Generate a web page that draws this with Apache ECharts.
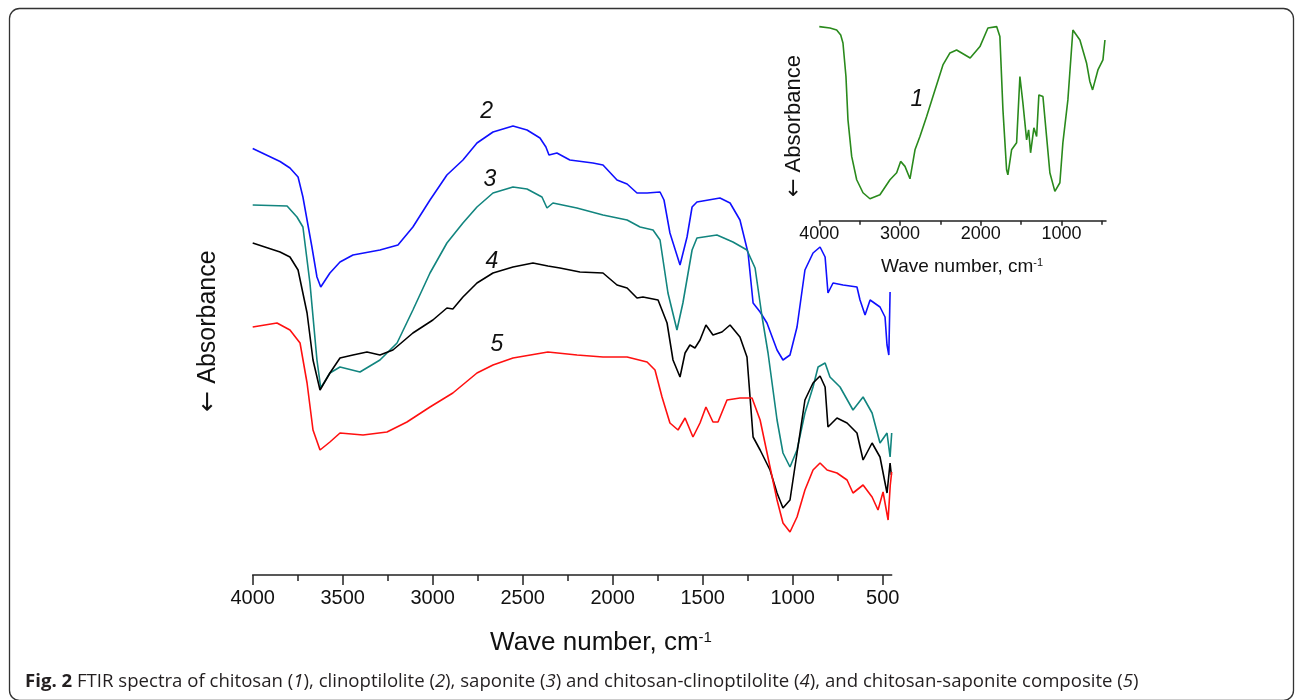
<!DOCTYPE html>
<html>
<head>
<meta charset="utf-8">
<title>FTIR spectra</title>
<script src="https://cdn.jsdelivr.net/npm/echarts@6.0.0/dist/echarts.min.js"></script>
<style>
  html, body { margin: 0; padding: 0; background: #fff; }
  #chart { width: 1295px; height: 700px; }
</style>
</head>
<body>
<div id="chart"></div>
<script>
// wave number (cm-1) / absorbance in arbitrary units
var majorTicks = [4000, 3500, 3000, 2500, 2000, 1500, 1000, 500];
var minorTicks = [3750, 3250, 2750, 2250, 1750, 1250, 750];
var insetMajorTicks = [4000, 3000, 2000, 1000];
var insetMinorTicks = [3500, 2500, 1500, 500];

// (2) clinoptilolite
var clinoptilolite = [
  [4000, 85.3], [3848, 82.7], [3793, 81.4], [3748, 79.6], [3721, 75.6], [3671, 65.6],
  [3643, 59.6], [3622, 57.6], [3571, 60.4], [3515, 62.6], [3443, 64], [3293, 65],
  [3193, 66], [3110, 69.6], [3015, 75], [2921, 80], [2832, 83], [2754, 86.4],
  [2665, 88.6], [2554, 89.8], [2476, 89], [2404, 87.4], [2371, 85.6], [2354, 84],
  [2310, 84.4], [2238, 83], [2110, 82.4], [2054, 82], [1976, 79], [1920, 78.2],
  [1865, 76.4], [1809, 76.4], [1737, 76.6], [1715, 75], [1682, 68.4], [1626, 62],
  [1587, 67.6], [1559, 73.6], [1532, 74.6], [1404, 75.4], [1348, 74.4], [1293, 71],
  [1248, 64.4], [1220, 54.4], [1181, 52.6], [1143, 50.4], [1087, 45], [1054, 43],
  [1015, 44], [976, 49.6], [932, 61], [887, 64.4], [848, 65.6], [820, 63.6],
  [804, 56.4], [776, 58.4], [720, 58], [643, 57.6], [626, 55], [598, 52],
  [570, 55], [515, 53.6], [487, 51.6], [476, 46], [466, 44], [459, 56.6]
];
// (3) saponite
var saponite = [
  [4000, 74], [3809, 73.8], [3754, 71.6], [3721, 69.6], [3682, 58.4], [3643, 43],
  [3622, 37.4], [3571, 40.4], [3515, 41.6], [3404, 40.6], [3293, 43], [3198, 46.4],
  [3110, 53], [3015, 60.4], [2921, 66.4], [2832, 70.4], [2754, 73.6], [2665, 76.4],
  [2554, 77.6], [2476, 77.2], [2393, 75.6], [2365, 73.4], [2332, 74.4], [2199, 73.4],
  [2054, 72], [1920, 71], [1848, 69.6], [1776, 69], [1737, 67], [1693, 56.4],
  [1643, 49], [1610, 54.4], [1559, 65], [1532, 67.4], [1421, 68], [1332, 66.6],
  [1254, 65], [1209, 61.4], [1170, 51.6], [1137, 44.4], [1087, 31], [1054, 24.4],
  [1015, 21.6], [976, 25], [932, 32.4], [887, 37.6], [859, 41.6], [820, 42.4],
  [793, 39.6], [737, 37.6], [665, 33], [609, 35.6], [559, 32.4], [515, 26.4],
  [476, 28.4], [459, 23.6], [450, 28.4]
];
// (4) chitosan-clinoptilolite
var chitosanClino = [
  [4000, 66.4], [3848, 64.6], [3793, 63.6], [3748, 61], [3698, 52.4], [3665, 43],
  [3626, 37], [3571, 40.4], [3515, 43.4], [3443, 44], [3365, 44.6], [3293, 44],
  [3221, 45], [3110, 48.4], [2999, 51], [2921, 53.4], [2888, 53.2], [2832, 55.6],
  [2754, 58.4], [2665, 60.4], [2554, 61.6], [2443, 62.4], [2360, 61.8], [2293, 61.4],
  [2182, 60.6], [2054, 60.4], [1976, 58], [1920, 57.4], [1865, 55.4], [1832, 55.6],
  [1748, 55], [1698, 50.4], [1665, 43], [1626, 39.6], [1598, 44.4], [1571, 46],
  [1543, 45.4], [1515, 47], [1482, 50], [1443, 48], [1393, 48.6], [1348, 50],
  [1293, 47.6], [1254, 43.6], [1237, 35.6], [1220, 27.6], [1181, 25], [1126, 21],
  [1087, 16.4], [1054, 13.4], [1015, 15], [976, 24.4], [932, 35], [887, 38.4],
  [848, 39.8], [820, 37.6], [804, 29.6], [754, 31.4], [698, 30.4], [643, 28.4],
  [609, 23], [559, 26.4], [515, 23.6], [476, 16.4], [459, 22.4], [452, 20]
];
// (5) chitosan-saponite composite
var chitosanSap = [
  [4000, 49.6], [3865, 50.4], [3793, 49], [3737, 46.4], [3698, 38.4], [3665, 29],
  [3626, 25], [3571, 26.6], [3515, 28.4], [3387, 28], [3254, 28.6], [3143, 30.6],
  [3015, 33.6], [2888, 36.4], [2754, 40.4], [2665, 42], [2554, 43.4], [2360, 44.6],
  [2198, 44], [2054, 43.6], [1920, 43.6], [1809, 42.6], [1765, 41], [1726, 35.6],
  [1682, 30.4], [1637, 29], [1598, 31.4], [1554, 27.6], [1515, 30.4], [1482, 33.6],
  [1443, 30.6], [1415, 30.6], [1365, 35], [1293, 35.4], [1226, 35.4], [1181, 31],
  [1126, 21.6], [1087, 15], [1054, 10.4], [1015, 8.6], [976, 11.6], [932, 17],
  [887, 21], [848, 22.4], [809, 21], [754, 20.4], [698, 19], [665, 16.4],
  [609, 18], [559, 15.6], [526, 13], [498, 16.6], [470, 11], [458, 18], [450, 20.6]
];
// (1) chitosan, inset
var chitosan = [
  [4000, 97.2], [3868, 96.5], [3785, 95.5], [3735, 93], [3707, 89], [3670, 72.2],
  [3645, 50.5], [3599, 32.2], [3537, 20.5], [3459, 14], [3373, 11], [3249, 13],
  [3125, 20.5], [3042, 24], [2993, 29.7], [2939, 27.2], [2877, 21], [2815, 35.5],
  [2754, 42.2], [2671, 52.2], [2593, 62.2], [2469, 78], [2382, 84], [2300, 85.5],
  [2132, 81.5], [2011, 87.2], [1912, 96.5], [1804, 97.2], [1764, 92.2], [1726, 55.5],
  [1681, 25.5], [1665, 23], [1619, 35.5], [1557, 39], [1516, 72.2], [1479, 59],
  [1433, 40.5], [1408, 45.5], [1384, 34], [1343, 46.5], [1309, 42.2], [1281, 63],
  [1231, 62.2], [1186, 42.2], [1145, 24], [1083, 14.7], [1021, 19], [984, 39],
  [922, 60.5], [860, 95.5], [773, 90.5], [691, 79], [650, 69.7], [616, 65.5],
  [550, 75.5], [488, 80.5], [463, 90.5]
];

// curve labels: [text, wave number, absorbance]
var mainLabels = [['2', 2700, 92.7], ['3', 2682, 79], ['4', 2671, 62.6], ['5', 2643, 46]];
var insetLabel = ['1', 2790, 60.5];

var numFont = 'Liberation Sans, Arial, sans-serif';

function renderChart (id) {
  var chart = echarts.init(document.getElementById(id));

  function makeXAxis (gridIndex, major, minor, fontSize, majorLen, minorLen, margin) {
    return [{
      type: 'value',
      gridIndex: gridIndex,
      position: 'bottom',
      min: 450,
      max: 4000,
      inverse: true,
      axisLine: { lineStyle: { color: '#222', width: 1.5 } },
      axisTick: { customValues: major, length: majorLen, lineStyle: { color: '#222', width: 1.5 } },
      axisLabel: {
        customValues: major, color: '#111', fontSize: fontSize, fontFamily: numFont, margin: margin,
        formatter: function (v) { return String(v); }
      },
      splitLine: { show: false }
    }, {
      type: 'value',
      gridIndex: gridIndex,
      position: 'bottom',
      min: 450,
      max: 4000,
      inverse: true,
      axisLine: { show: false },
      axisTick: { customValues: minor, length: minorLen, lineStyle: { color: '#222', width: 1.5 } },
      axisLabel: { show: false },
      splitLine: { show: false }
    }];
  }

  function line (name, data, color, xIdx, yIdx, lbl) {
    var s = {
      name: name,
      type: 'line',
      xAxisIndex: xIdx,
      yAxisIndex: yIdx,
      data: data,
      showSymbol: false,
      smooth: false,
      lineStyle: { color: color, width: 1.6 },
      itemStyle: { color: color }
    };
    if (lbl) {
      s.markPoint = {
        symbol: 'circle',
        symbolSize: 0,
        silent: true,
        data: [{ coord: [lbl[1], lbl[2]] }],
        label: {
          show: true, position: 'inside', formatter: lbl[0],
          fontSize: 23, fontStyle: 'italic',
          fontFamily: numFont, color: '#111'
        }
      };
    }
    return s;
  }

  var yHidden = function (gridIndex, max) {
    return { type: 'value', gridIndex: gridIndex, min: 0, max: max, show: false };
  };

  var option = {
    animation: false,
    backgroundColor: '#fff',
    grid: [
      { left: 252.7, right: 403.3, top: 100, bottom: 125 },
      { left: 819.3, right: 189, top: 21, bottom: 479.3 }
    ],
    xAxis: makeXAxis(0, majorTicks, minorTicks, 20, 10, 6, 13)
      .concat(makeXAxis(1, insetMajorTicks, insetMinorTicks, 18, 5, 4, 4)),
    yAxis: [yHidden(0, 95), yHidden(1, 100)],
    series: [
      line('clinoptilolite', clinoptilolite, '#1010ff', 0, 0, mainLabels[0]),
      line('saponite', saponite, '#12857f', 0, 0, mainLabels[1]),
      line('chitosan-clinoptilolite', chitosanClino, '#000000', 0, 0, mainLabels[2]),
      line('chitosan-saponite', chitosanSap, '#ff1010', 0, 0, mainLabels[3]),
      line('chitosan', chitosan, '#2a8a1c', 2, 1, insetLabel)
    ],
    graphic: [
      {
        type: 'rect',
        shape: { x: 9.5, y: 8.5, width: 1284, height: 692, r: 10 },
        style: { fill: 'none', stroke: '#333', lineWidth: 1.3 },
        silent: true
      },
      {
        type: 'text', x: 601, y: 643,
        style: {
          text: 'Wave number, cm{sup|-1}', fontSize: 26, fontFamily: numFont, fill: '#111',
          align: 'center', verticalAlign: 'middle',
          rich: { sup: { fontSize: 15, fontFamily: numFont, verticalAlign: 'top', fill: '#111' } }
        }
      },
      {
        type: 'text', x: 962, y: 267,
        style: {
          text: 'Wave number, cm{sup|-1}', fontSize: 19, fontFamily: numFont, fill: '#111',
          align: 'center', verticalAlign: 'middle',
          rich: { sup: { fontSize: 11, fontFamily: numFont, verticalAlign: 'top', fill: '#111' } }
        }
      },
      {
        type: 'text', x: 208, y: 331, rotation: Math.PI / 2,
        style: {
          text: '{a|\u2190} Absorbance', fontSize: 25, fontFamily: numFont, fill: '#111',
          align: 'center', verticalAlign: 'middle',
          rich: { a: { fontSize: 25, fontFamily: 'DejaVu Sans', fill: '#111' } }
        }
      },
      {
        type: 'text', x: 794, y: 126, rotation: Math.PI / 2,
        style: {
          text: '{a|\u2190} Absorbance', fontSize: 22, fontFamily: numFont, fill: '#111',
          align: 'center', verticalAlign: 'middle',
          rich: { a: { fontSize: 22, fontFamily: 'DejaVu Sans', fill: '#111' } }
        }
      },
      {
        type: 'text', x: 25, y: 682,
        style: {
          text: '{b|Fig. 2} FTIR spectra of chitosan ({i|1}), clinoptilolite ({i|2}), saponite ({i|3}) and chitosan-clinoptilolite ({i|4}), and chitosan-saponite composite ({i|5})',
          fontSize: 18.6, fontFamily: 'Open Sans, sans-serif', fill: '#231f20',
          verticalAlign: 'middle',
          rich: {
            b: { fontSize: 18.6, fontWeight: 'bold', fontFamily: 'Open Sans, sans-serif', fill: '#231f20' },
            i: { fontSize: 18.6, fontStyle: 'italic', fontFamily: 'Open Sans, sans-serif', fill: '#231f20' }
          }
        }
      }
    ]
  };
  chart.setOption(option, true);
}

renderChart('chart');
</script>
</body>
</html>
